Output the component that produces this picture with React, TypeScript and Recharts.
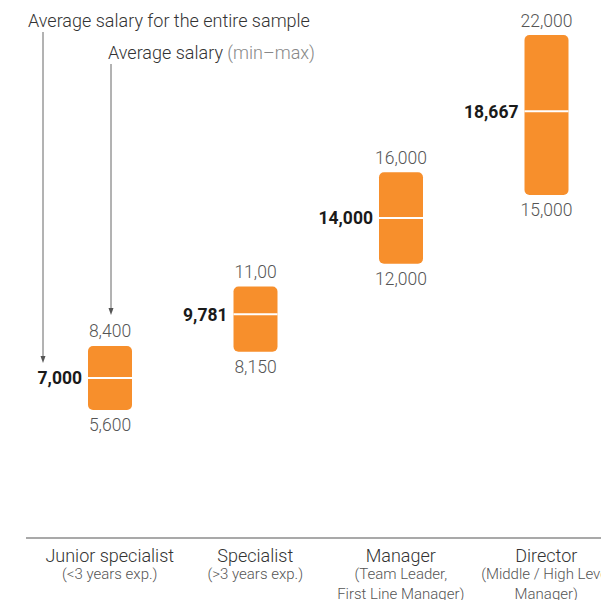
import React from 'react';
import { BarChart, Bar, XAxis, YAxis } from 'recharts';

const categories = ['Junior specialist', 'Specialist', 'Manager', 'Director'];
const subtitles = [
  ['(<3 years exp.)'],
  ['(>3 years exp.)'],
  ['(Team Leader,', 'First Line Manager)'],
  ['(Middle / High Level', 'Manager)'],
];
const minSalary = [5600, 8150, 12000, 15000];
const maxSalary = [8400, 11000, 16000, 22000];
const avgSalary = [7000, 9781, 14000, 18667];
// labels as printed in the source (the specialist max is shown truncated)
const minLabels = ['5,600', '8,150', '12,000', '15,000'];
const maxLabels = ['8,400', '11,00', '16,000', '22,000'];
const avgLabels = ['7,000', '9,781', '14,000', '18,667'];

const ORANGE = '#f78f2c';
const FONT = 'Roboto, "Noto Sans", sans-serif';

const data = categories.map((name, i) => ({
  name,
  sub: subtitles[i],
  range: [minSalary[i], maxSalary[i]],
  min: minSalary[i],
  max: maxSalary[i],
  avg: avgSalary[i],
  minLabel: minLabels[i],
  maxLabel: maxLabels[i],
  avgLabel: avgLabels[i],
}));

const Arrow = ({ x, y1, y2 }: { x: number; y1: number; y2: number }) => (
  <g>
    <line x1={x} x2={x} y1={y1} y2={y2 - 5} stroke="#666" strokeWidth={1} />
    <path d={`M${x - 2.5},${y2 - 7} L${x + 2.5},${y2 - 7} L${x},${y2} Z`} fill="#555" />
  </g>
);

const SalaryBar = (props: any) => {
  const { x, y, width, height, payload, index } = props;
  const cx = x + width / 2;
  // avg position inside the bar (linear y scale)
  const ya = y + (height * (payload.max - payload.avg)) / (payload.max - payload.min);
  return (
    <g fontFamily={FONT}>
      <rect x={x} y={y} width={width} height={height} rx={5} ry={5} fill={ORANGE} />
      <line x1={x} x2={x + width} y1={ya} y2={ya} stroke="#fff" strokeWidth={2} />
      <text x={cx} y={y - 8.5} textAnchor="middle" fontSize={17.5} fontWeight={300} fill="#555">
        {payload.maxLabel}
      </text>
      <text x={cx} y={y + height + 21} textAnchor="middle" fontSize={17.5} fontWeight={300} fill="#555">
        {payload.minLabel}
      </text>
      <text x={x - 6} y={ya + 6.3} textAnchor="end" fontSize={17.5} fontWeight="bold" fill="#1a1a1a">
        {payload.avgLabel}
      </text>
      {index === 0 && (
        <g>
          <text x={28} y={26.5} fontSize={18} fontWeight={300} fill="#333">
            Average salary for the entire sample
          </text>
          <text x={108} y={58.5} fontSize={18} fontWeight={300} fill="#333">
            Average salary <tspan fill="#888">(min–max)</tspan>
          </text>
          <Arrow x={x - 45} y1={32} y2={ya - 15} />
          <Arrow x={cx + 1} y1={64} y2={y - 31} />
        </g>
      )}
    </g>
  );
};

const CategoryTick = (props: any) => {
  const { x, y, payload, index } = props;
  const sub = data[index]?.sub ?? [];
  return (
    <g fontFamily={FONT}>
      <text x={x} y={y + 15.5} textAnchor="middle" fontSize={18} fontWeight={300} fill="#333">
        {payload.value}
      </text>
      {sub.map((s: string, i: number) => (
        <text
          key={i}
          x={x}
          y={y + 32.5 + i * 20.5}
          textAnchor="middle"
          fontSize={15}
          fontWeight={300}
          fill="#555"
        >
          {s}
        </text>
      ))}
    </g>
  );
};

export default function App() {
  return (
    <div
      style={{
        position: 'absolute',
        left: 0,
        top: 0,
        width: 601,
        height: 600,
        overflow: 'hidden',
        background: '#fff',
      }}
    >
      <BarChart
        width={620}
        height={600}
        data={data}
        margin={{ top: 35, right: 1, bottom: 0, left: 26 }}
      >
        <XAxis
          dataKey="name"
          height={62}
          interval={0}
          tickLine={false}
          axisLine={{ stroke: '#555', strokeWidth: 1.2 }}
          padding={{ left: 11, right: 0 }}
          tick={<CategoryTick />}
        />
        <YAxis hide domain={[0, 22000]} />
        <Bar
          dataKey="range"
          barSize={44}
          isAnimationActive={false}
          shape={(p: any) => <SalaryBar {...p} />}
        />
      </BarChart>
    </div>
  );
}
